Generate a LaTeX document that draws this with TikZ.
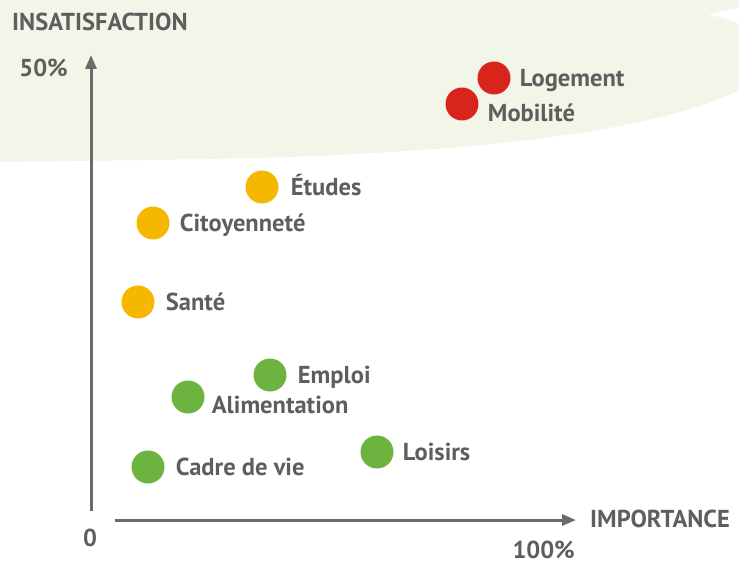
\documentclass[tikz,border=0pt]{standalone}
\usepackage{fontspec}
\setmainfont{PT Sans}
\usetikzlibrary{positioning,arrows.meta}
\definecolor{zone}{HTML}{F2F6E8}
\definecolor{txtgray}{HTML}{5E5E5E}
\definecolor{axisgray}{HTML}{6A6A6A}
\definecolor{hot}{HTML}{D9241B}
\definecolor{mid}{HTML}{F5B700}
\definecolor{cool}{HTML}{6DB33F}

\begin{document}
\begin{tikzpicture}[x=1pt, y=-1pt,
    dot/.style={circle, minimum size=33pt, inner sep=0pt},
    lbl/.style={font=\bfseries\fontsize{24.5}{25}\selectfont, text=txtgray, inner sep=0pt, text height=17pt, text depth=0pt},
    axis/.style={draw=axisgray, line width=3pt, -{Triangle[length=14pt, width=11pt]}},
]
\useasboundingbox (0,0) rectangle (739,564);

% zone of strong dissatisfaction
\fill[zone] (0,0) -- (739,0) -- (739,8) .. controls (725,10) .. (708,15)
    .. controls (725,18) .. (739,24) -- (739,90)
    .. controls (690,115) and (600,135) .. (450,148)
    .. controls (300,158) .. (0,162) -- cycle;

% axes
\coordinate (vbot) at (91,511);
\coordinate (vtop) at (91,55);
\coordinate (hleft) at (115,520);
\coordinate (hright) at (576,520);
\draw[axis] (vbot) -- (vtop);
\draw[axis] (hleft) -- (hright);

\node[lbl, anchor=west] (ytitle) at (12,22) {INSATISFACTION};
\node[lbl, anchor=east] (ymax) at (68,68) {50\%};
\node[lbl, anchor=west] (xtitle) at (590,519) {IMPORTANCE};
\node[lbl] (zero) at (90,538) {0};
\node[lbl, anchor=east] (xmax) at (575,550) {100\%};

% red
\node[dot, fill=hot] (loge) at (494,78) {};
\node[lbl, right=9pt of loge] (logeT) {Logement};
\node[dot, fill=hot] (mobi) at (462,104) {};
\node[lbl, right=9pt of mobi, yshift=-9pt] (mobiT) {Mobilité};

% orange
\node[dot, fill=mid] (etud) at (262,187) {};
\node[lbl, right=12pt of etud] (etudT) {Études};
\node[dot, fill=mid] (cito) at (153,223) {};
\node[lbl, right=10pt of cito] (citoT) {Citoyenneté};
\node[dot, fill=mid] (sante) at (138,302) {};
\node[lbl, right=11pt of sante] (santeT) {Santé};

% green
\node[dot, fill=cool] (empl) at (270,375) {};
\node[lbl, right=11pt of empl] (emplT) {Emploi};
\node[dot, fill=cool] (alim) at (188,397) {};
\node[lbl, right=7pt of alim, yshift=-8pt] (alimT) {Alimentation};
\node[dot, fill=cool] (lois) at (377,452) {};
\node[lbl, right=9pt of lois] (loisT) {Loisirs};
\node[dot, fill=cool] (cadre) at (148,467) {};
\node[lbl, right=11pt of cadre] (cadreT) {Cadre de vie};

\end{tikzpicture}
\end{document}
